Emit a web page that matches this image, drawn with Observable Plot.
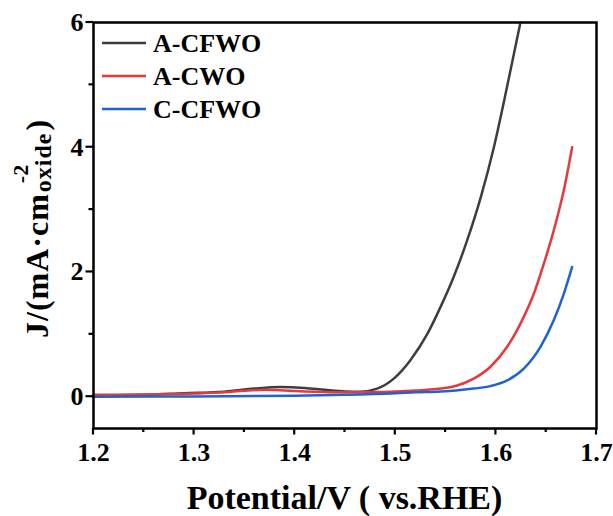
<!DOCTYPE html>
<html><head><meta charset="utf-8">
<script src="https://cdn.jsdelivr.net/npm/d3@7"></script>
<script src="https://cdn.jsdelivr.net/npm/@observablehq/plot@0.6"></script>
<style>body{margin:0;background:#fff} #chart{width:613px;height:516px}</style>
</head><body><div id="chart"></div>
<script>
const seriesNames = ["A-CFWO", "A-CWO", "C-CFWO"];
const seriesColors = ["#3d3d3d", "#e5393e", "#1f62d0"];

const vACFWO = [1.20,1.25,1.29,1.33,1.36,1.385,1.41,1.43,1.45,1.465,1.482,1.4985,1.515,1.532,1.545,1.558,1.5715,1.585,1.598,1.611,1.6244];
const jACFWO = [0.02,0.03,0.055,0.08,0.13,0.155,0.14,0.11,0.085,0.08,0.13,0.29,0.585,1.01,1.44,1.92,2.51,3.20,4.00,4.96,6.0];

const vACWO = [1.20,1.25,1.30,1.33,1.35,1.37,1.39,1.41,1.43,1.45,1.48,1.50,1.52,1.545,1.5615,1.578,1.5946,1.6112,1.6277,1.6377,1.6476,1.6576,1.6675,1.6758];
const jACWO = [0.03,0.035,0.05,0.07,0.095,0.11,0.10,0.085,0.075,0.07,0.075,0.085,0.10,0.13,0.18,0.29,0.48,0.80,1.28,1.65,2.13,2.67,3.31,4.00];

const vCCFWO = [1.20,1.30,1.40,1.45,1.50,1.52,1.545,1.56,1.578,1.5946,1.6112,1.6277,1.6443,1.6576,1.6675,1.6758];
const jCCFWO = [0.0,0.005,0.015,0.03,0.055,0.07,0.085,0.10,0.13,0.17,0.26,0.45,0.80,1.23,1.65,2.08];

const xDomain = [1.2, 1.7];
const yDomain = [-0.51, 6];
const xTicks = [1.2, 1.3, 1.4, 1.5, 1.6, 1.7];
const xMinorTicks = [1.25, 1.35, 1.45, 1.55, 1.65];
const yTicks = [0, 2, 4, 6];
const yMinorTicks = [1, 3, 5];
const xTitle = "Potential/V ( vs.RHE)";
const yTitleMain = "J/(mA·cm";
const yTitleSup = "-2";
const yTitleSub = "oxide";

const seriesV = [vACFWO, vACWO, vCCFWO];
const seriesJ = [jACFWO, jACWO, jCCFWO];
const data = [];
seriesNames.forEach((name, i) => {
  seriesV[i].forEach((v, k) => data.push({series: name, v, j: seriesJ[i][k]}));
});

const W = 613, H = 516, ML = 93, MR = 17, MT = 22, MB = 88;
const FONT = "'Liberation Serif', 'Times New Roman', serif";

const plot = Plot.plot({
  width: W, height: H,
  marginLeft: ML, marginRight: MR, marginTop: MT, marginBottom: MB,
  style: {fontFamily: FONT, fontWeight: "bold", background: "#fff", color: "#000"},
  x: {domain: xDomain},
  y: {domain: yDomain},
  color: {domain: seriesNames, range: seriesColors},
  marks: [
    Plot.line(data, {x: "v", y: "j", z: "series", stroke: "series", strokeWidth: 2.5, curve: "monotone-x"}),
    Plot.frame({stroke: "#000", strokeWidth: 2.5}),
    Plot.axisX({ticks: xTicks, tickSize: 0, tickPadding: 14, tickFormat: d3.format(".1f"), fontSize: 26, fontWeight: "bold", label: null}),
    Plot.axisY({ticks: yTicks, tickSize: 0, tickPadding: 10, tickFormat: d3.format("d"), fontSize: 26, fontWeight: "bold", label: null})
  ]
});
document.getElementById("chart").appendChild(plot);

const svg = d3.select(plot);
const xs = plot.scale("x"), ys = plot.scale("y");

// outward tick marks drawn from Plot's own scales
const tg = svg.append("g").attr("stroke", "#000").attr("stroke-width", 2.2);
const yBottom = ys.apply(yDomain[0]);
const xLeft = xs.apply(xDomain[0]);
function addX(vals, len) {
  vals.forEach(v => {
    const px = xs.apply(v);
    tg.append("line").attr("x1", px).attr("x2", px).attr("y1", yBottom).attr("y2", yBottom + len);
  });
}
function addY(vals, len) {
  vals.forEach(v => {
    const py = ys.apply(v);
    tg.append("line").attr("x1", xLeft - len).attr("x2", xLeft).attr("y1", py).attr("y2", py);
  });
}
addX(xTicks, 6.5); addX(xMinorTicks, 4);
addY(yTicks, 7.5); addY(yMinorTicks, 4.5);

function txt(sel) {
  return sel.style("font-family", FONT).style("font-weight", "bold").attr("fill", "#000").attr("text-anchor", "start");
}
// x title
txt(svg.append("text"))
  .attr("x", ML + (W - ML - MR) / 2).attr("y", H - 7)
  .attr("text-anchor", "middle").style("font-size", "34px").text(xTitle);

// y title with super/subscript
const g = svg.append("g").attr("transform", `translate(48,338) rotate(-90)`).attr("text-anchor", "start");
const t1 = txt(g.append("text")).style("font-size", "32px").style("letter-spacing", "1px").text(yTitleMain);
const L = t1.node().getComputedTextLength();
const tsub = txt(g.append("text")).attr("x", L + 1).attr("y", 3).style("font-size", "24px").style("letter-spacing", "1px").text(yTitleSub);
const Ls = tsub.node().getComputedTextLength();
txt(g.append("text")).attr("x", L + 10).attr("y", -20).style("font-size", "22px").text(yTitleSup);
txt(g.append("text")).attr("x", L + Ls + 3).style("font-size", "32px").text(")");

// legend
const leg = svg.append("g");
seriesNames.forEach((name, i) => {
  const y = 43 + 33 * i;
  leg.append("line").attr("x1", 102).attr("x2", 146).attr("y1", y).attr("y2", y)
    .attr("stroke", seriesColors[i]).attr("stroke-width", 2.5);
  txt(leg.append("text")).attr("x", 153).attr("y", y + 9).style("font-size", "26px").text(name);
});
</script></body></html>
